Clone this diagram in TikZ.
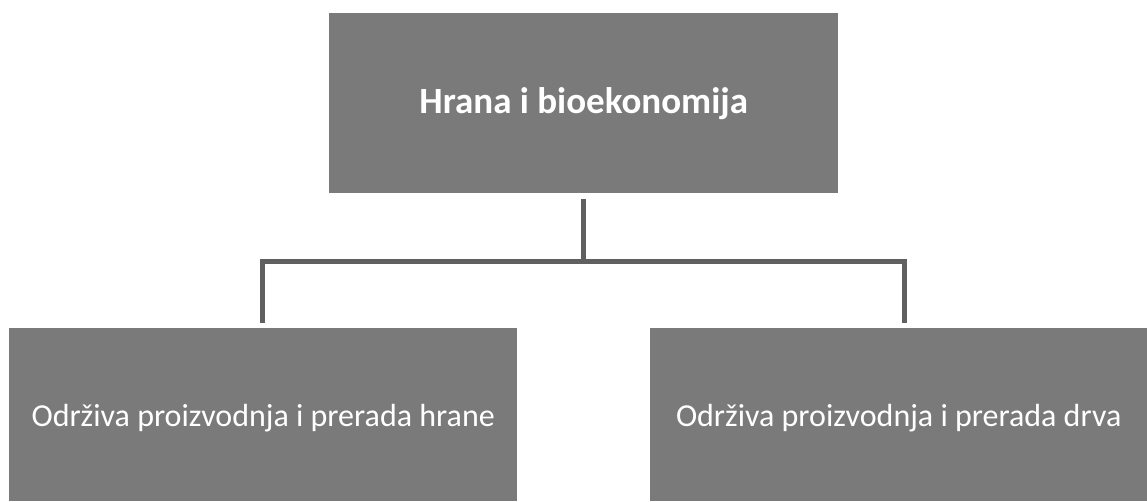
\documentclass[tikz,border=0pt]{standalone}
\usepackage{fontspec}
\setmainfont{Carlito}
\definecolor{boxgray}{RGB}{122,122,122}
\definecolor{linegray}{RGB}{96,96,96}
\begin{document}
\begin{tikzpicture}[x=1pt,y=-1pt,
  box/.style={draw=none,fill=boxgray,text=white,inner sep=0pt,anchor=north west},
  conn/.style={draw=linegray,line width=5pt,line join=miter}]
\useasboundingbox (0,0) rectangle (1147,501);
\node[box,minimum width=509pt,minimum height=180pt] (top) at (329,13) {};
\node[font=\bfseries\fontsize{37}{42}\selectfont,text=white] at (top.center) {Hrana i bioekonomija};
\node[box,minimum width=508pt,minimum height=173pt] (left) at (9,328) {};
\node[font=\fontsize{32}{38}\selectfont,text=white] at ([yshift=-3pt]left.center) {Održiva proizvodnja i prerada hrane};
\node[box,minimum width=497pt,minimum height=173pt] (right) at (650,328) {};
\node[font=\fontsize{32}{38}\selectfont,text=white] at ([yshift=-3pt]right.center) {Održiva proizvodnja i prerada drva};
\coordinate (ts) at (583,199);
\coordinate (hm) at (583,261);
\coordinate (le) at (262,323);
\coordinate (re) at (904,323);
\draw[conn] (ts) -- (hm);
\draw[conn] (le) |- (hm) -| (re);
\end{tikzpicture}
\end{document}
